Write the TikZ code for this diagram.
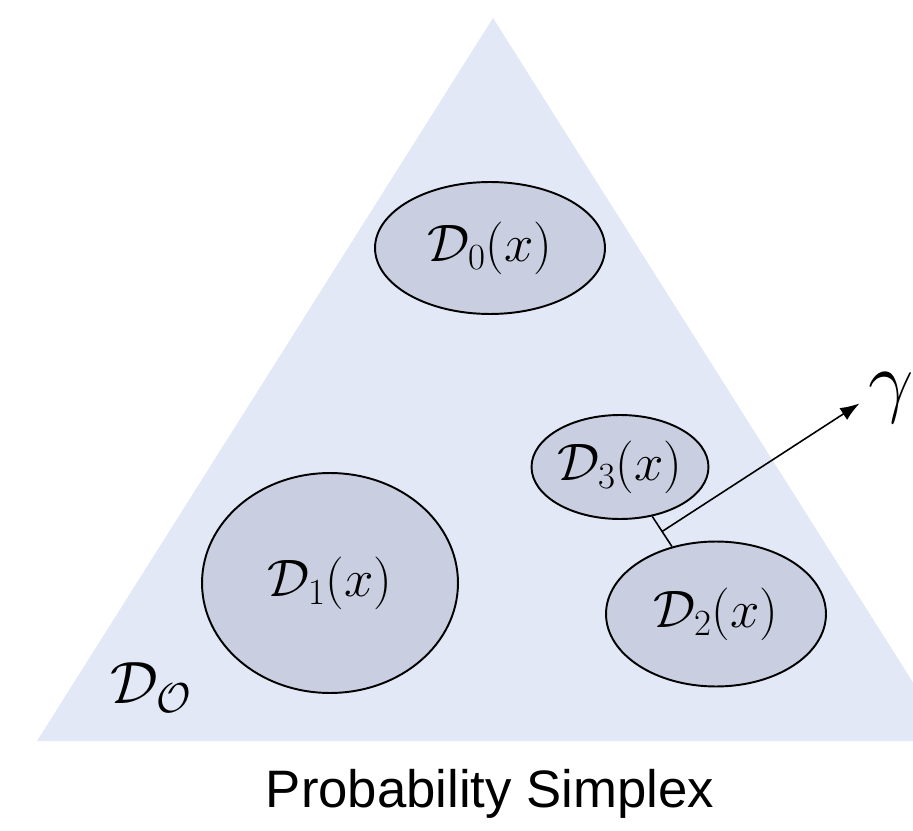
\RequirePackage{fix-cm}
\documentclass[tikz,border=0pt]{standalone}
\usepackage{amsmath,amssymb}
\usepackage{fontspec}
\setsansfont{Liberation Sans}
\usepackage{tikz}
\usetikzlibrary{shapes.geometric,arrows.meta,calc}
\definecolor{simplexfill}{RGB}{226,232,245}
\definecolor{setfill}{RGB}{201,207,224}

\begin{document}
\begin{tikzpicture}[
  x=0.02cm, y=-0.02cm,
  region/.style={ellipse, draw, line width=1.1pt, fill=setfill, inner sep=0pt, font=\fontsize{30}{36}\selectfont},
  arrow/.style={-{Latex[length=11pt,width=8pt]}, line width=0.9pt},
  label/.style={font=\fontsize{34}{40}\selectfont}
]
\useasboundingbox (0,0) rectangle (913,831);

% Simplex
\fill[simplexfill] (493,18) -- (37,741) -- (950,741) -- cycle;

% Subsets
\node[region, minimum width=4.6cm, minimum height=2.64cm] (dzero) at (490,248) {$\mathcal{D}_0(x)$};
\node[region, minimum width=5.12cm, minimum height=4.4cm] (done) at (330,583) {$\mathcal{D}_1(x)$};
\node[region, minimum width=3.18cm, minimum height=2.08cm] (dthree) at (620,467) {$\mathcal{D}_3(x)$};
\node[region, minimum width=4.4cm, minimum height=2.9cm] (dtwo) at (716,614) {$\mathcal{D}_2(x)$};

% Gap between D3 and D2 and its normal
\draw[line width=0.9pt] (dthree) -- coordinate[pos=0.5] (mid) (dtwo);
\node[label, font=\fontsize{46}{52}\selectfont, inner sep=0pt] (gamma) at (891,398) {$\gamma$};
\draw[arrow, shorten >=0.2cm] (mid) -- (gamma.west);

% Labels
\node[label] (outer) at (151,688) {$\mathcal{D}_{\mathcal{O}}$};
\node[font=\sffamily\fontsize{30}{36}\selectfont] (title) at (490,794) {Probability Simplex};

\end{tikzpicture}
\end{document}
